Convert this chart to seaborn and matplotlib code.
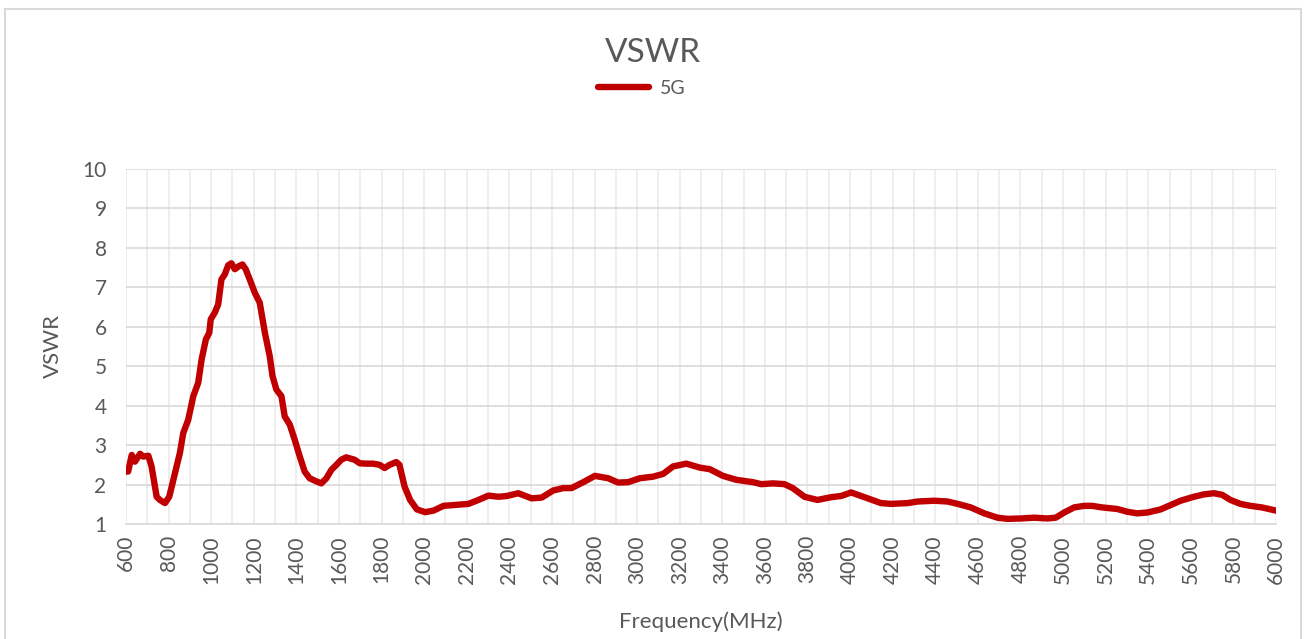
import numpy as np
import pandas as pd
import matplotlib
matplotlib.use("Agg")
import matplotlib.pyplot as plt
import seaborn as sns
from matplotlib.patches import Rectangle

# values
freq = [600, 610, 627, 642, 666, 681, 705, 720, 744, 759, 783, 803, 830, 853, 869,
        892, 916, 939, 955, 975, 991, 998, 1017, 1033, 1048, 1064, 1080, 1095, 1111,
        1131, 1147, 1162, 1181, 1205, 1228, 1252, 1275, 1288, 1306, 1330, 1345, 1369,
        1392, 1416, 1439, 1462, 1494, 1517, 1541, 1564, 1588, 1611, 1634, 1673, 1697,
        1728, 1759, 1791, 1814, 1838, 1869, 1884, 1908, 1934, 1966, 2005, 2044, 2091,
        2138, 2208, 2255, 2302, 2348, 2388, 2442, 2505, 2552, 2606, 2653, 2692, 2747,
        2802, 2864, 2911, 2958, 3013, 3075, 3122, 3169, 3231, 3294, 3341, 3403, 3466,
        3544, 3583, 3638, 3692, 3731, 3786, 3847, 3911, 3958, 4005, 4067, 4145, 4192,
        4270, 4317, 4395, 4458, 4505, 4567, 4630, 4692, 4739, 4802, 4864, 4927, 4966,
        5005, 5052, 5098, 5137, 5184, 5255, 5302, 5348, 5395, 5458, 5505, 5552, 5614,
        5661, 5708, 5747, 5786, 5833, 5880, 5934, 6000]
vswr = [2.33, 2.33, 2.75, 2.58, 2.78, 2.71, 2.73, 2.46, 1.69, 1.61, 1.53, 1.69, 2.29,
        2.80, 3.31, 3.64, 4.24, 4.58, 5.17, 5.68, 5.85, 6.19, 6.36, 6.57, 7.20, 7.33,
        7.56, 7.61, 7.46, 7.54, 7.58, 7.46, 7.20, 6.86, 6.61, 5.85, 5.25, 4.75, 4.41,
        4.24, 3.73, 3.52, 3.14, 2.71, 2.33, 2.16, 2.08, 2.03, 2.16, 2.37, 2.50, 2.63,
        2.69, 2.63, 2.54, 2.53, 2.53, 2.50, 2.42, 2.50, 2.57, 2.50, 1.95, 1.61, 1.37,
        1.30, 1.34, 1.46, 1.48, 1.51, 1.61, 1.72, 1.69, 1.71, 1.78, 1.65, 1.67, 1.85,
        1.91, 1.91, 2.06, 2.22, 2.16, 2.05, 2.06, 2.16, 2.20, 2.27, 2.46, 2.53, 2.43,
        2.39, 2.22, 2.12, 2.06, 2.01, 2.03, 2.01, 1.91, 1.69, 1.61, 1.68, 1.71, 1.80,
        1.68, 1.53, 1.51, 1.53, 1.57, 1.59, 1.57, 1.51, 1.42, 1.27, 1.16, 1.13, 1.14,
        1.16, 1.14, 1.16, 1.29, 1.42, 1.46, 1.46, 1.42, 1.38, 1.31, 1.27, 1.29, 1.37,
        1.48, 1.59, 1.69, 1.75, 1.78, 1.74, 1.61, 1.51, 1.46, 1.42, 1.34]
x_ticks = list(range(600, 6001, 200))
y_ticks = list(range(1, 11))

df = pd.DataFrame({"Frequency": freq, "VSWR": vswr})

sns.set_theme(style="white")
plt.rcParams["font.family"] = ["Lato", "DejaVu Sans"]
text_col = "#595959"

fig = plt.figure(figsize=(13.06, 6.39), dpi=100)
ax = fig.add_axes([126 / 1306, 1 - 524 / 639, 1150 / 1306, 355 / 639])

sns.lineplot(data=df, x="Frequency", y="VSWR", ax=ax, color="#C00000",
             linewidth=4.6, label="5G", solid_capstyle="round", solid_joinstyle="round")

ax.set_xlim(600, 6000)
ax.set_ylim(1, 10)
ax.set_xticks(x_ticks)
ax.set_xticks(range(600, 6001, 100), minor=True)
ax.set_yticks(y_ticks)
ax.grid(which="minor", axis="x", color="#EBEBEB", linewidth=1.2)
ax.grid(which="major", axis="x", color="#EBEBEB", linewidth=1.2)
ax.grid(which="major", axis="y", color="#D9D9D9", linewidth=1.2)
ax.set_axisbelow(True)
for s in ["top", "right", "left"]:
    ax.spines[s].set_visible(False)
ax.spines["bottom"].set_color("#D9D9D9")
ax.spines["bottom"].set_linewidth(1.2)
ax.tick_params(axis="both", length=0, labelsize=15, colors=text_col)
ax.tick_params(axis="x", pad=8)
ax.tick_params(axis="y", pad=14)
plt.setp(ax.get_xticklabels(), rotation=90)

ax.set_xlabel("Frequency(MHz)", fontsize=16, color=text_col, labelpad=20)
ax.set_ylabel("VSWR", fontsize=16, color=text_col, labelpad=14)

fig.text(0.5, 1 - 53 / 639, "VSWR", ha="center", va="center", fontsize=24, color=text_col)
leg = ax.legend(loc="center", bbox_to_anchor=(642 / 1306, 1 - 88 / 639),
                bbox_transform=fig.transFigure, frameon=False,
                fontsize=14, labelcolor=text_col, handlelength=2.6, handletextpad=0.6)

fig.patches.append(Rectangle((4.5 / 1306, -0.05), (1301 - 4.5) / 1306, 1.05 - 9 / 639,
                             transform=fig.transFigure, fill=False,
                             edgecolor="#D9D9D9", linewidth=1.5))

fig.savefig("out.png", dpi=100)
